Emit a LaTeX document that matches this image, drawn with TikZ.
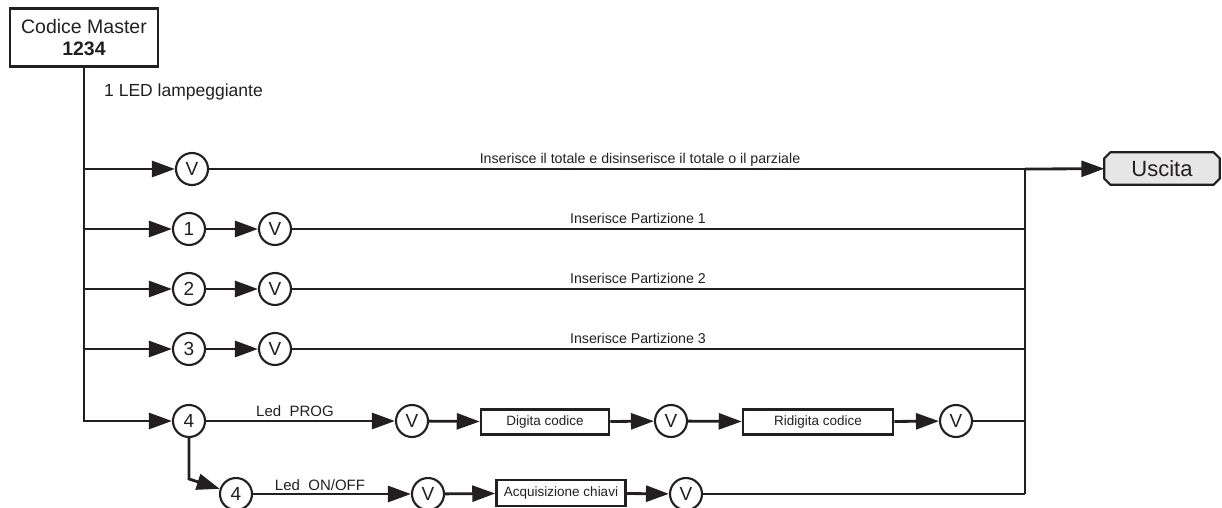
\documentclass[tikz,border=0pt]{standalone}
\usepackage{fontspec}
\setmainfont{Liberation Sans}
\usetikzlibrary{arrows.meta,backgrounds}
\definecolor{ink}{HTML}{231F20}
\definecolor{uscfill}{HTML}{E6E6E7}
\begin{document}
\begin{tikzpicture}[x=1pt,y=-1pt,
  line/.style={draw=ink,line width=2.8pt},
  arr/.style={line,-{Triangle[length=23pt,width=16pt]}},
  circ/.style={circle,draw=ink,line width=2.1pt,minimum size=32pt,inner sep=0pt,font=\fontsize{19}{19}\selectfont,text=ink},
  stepbox/.style={rectangle,draw=ink,line width=2.5pt,inner sep=0pt,minimum height=25pt,font=\fontsize{13.5}{14}\selectfont,text=ink},
  rowlabel/.style={anchor=base,font=\fontsize{14.2}{15}\selectfont,text=ink,inner sep=0pt},
  ledlabel/.style={anchor=base,font=\fontsize{15}{16}\selectfont,text=ink,inner sep=0pt}
]
\useasboundingbox (0,0) rectangle (1222,508);

% master box
\node[rectangle,draw=ink,line width=2.5pt,minimum width=148pt,minimum height=58pt,align=center,
      font=\fontsize{19.5}{22}\selectfont,text=ink,yshift=1.5pt] (master) at (84,39) {Codice Master\\\textbf{1234}};
\node[anchor=base west,inner sep=0pt,font=\fontsize{17.5}{18}\selectfont,text=ink] (led) at (104,97) {1 LED lampeggiante};

% trunk coordinates
\coordinate (t1) at (84,169);
\coordinate (t2) at (84,229);
\coordinate (t3) at (84,289);
\coordinate (t4) at (84,349);
\coordinate (t5) at (84,421);
% right collector
\coordinate (r1) at (1025,169);
\coordinate (r2) at (1025,229);
\coordinate (r3) at (1025,289);
\coordinate (r4) at (1025,349);
\coordinate (r5) at (1025,421);
\coordinate (r6) at (1025,494);

% row 1
\node[circ] (v1) at (192,169) {V};
\node[rectangle,minimum width=115pt,minimum height=32pt,inner sep=0pt,font=\fontsize{22}{22}\selectfont,text=ink] (usc) at (1162,168.5) {Uscita};
\begin{scope}[on background layer]
  \filldraw[draw=ink,fill=uscfill,line width=2.2pt,line join=round]
    ([xshift=6pt]usc.north west) -- ([xshift=-6pt]usc.north east) -- ([yshift=-6pt]usc.north east)
    -- ([yshift=6pt]usc.south east) -- ([xshift=-6pt]usc.south east) -- ([xshift=6pt]usc.south west)
    -- ([yshift=6pt]usc.south west) -- ([yshift=-6pt]usc.north west) -- cycle;
\end{scope}
\draw[arr] (t1) -- (v1);
\draw[line] (v1) -- (r1);
\draw[arr] (r1) -- (usc);
\node[rowlabel] (l1) at (640,163) {Inserisce il totale e disinserisce il totale o il parziale};

% row 2
\node[circ] (c1) at (189,229) {1};
\node[circ] (v2) at (275,229) {V};
\draw[arr] (t2) -- (c1);
\draw[arr] (c1) -- (v2);
\draw[line] (v2) -- (r2);
\node[rowlabel] (l2) at (638,223) {Inserisce Partizione 1};

% row 3
\node[circ] (c2) at (189,289) {2};
\node[circ] (v3) at (275,289) {V};
\draw[arr] (t3) -- (c2);
\draw[arr] (c2) -- (v3);
\draw[line] (v3) -- (r3);
\node[rowlabel] (l3) at (638,283) {Inserisce Partizione 2};

% row 4
\node[circ] (c3) at (189,349) {3};
\node[circ] (v4) at (275,349) {V};
\draw[arr] (t4) -- (c3);
\draw[arr] (c3) -- (v4);
\draw[line] (v4) -- (r4);
\node[rowlabel] (l4) at (638,343) {Inserisce Partizione 3};

% trunk + row 5
\node[circ] (c4) at (189,421) {4};
\draw[arr] (master.south) -- (t5) -- (c4);
\node[circ] (v5) at (412,421) {V};
\node[stepbox,minimum width=128pt] (dig) at (545,422) {Digita codice};
\node[circ] (v6) at (671,421) {V};
\node[stepbox,minimum width=150pt] (rid) at (818,422) {Ridigita codice};
\node[circ] (v7) at (956,421) {V};
\draw[arr] (c4) -- (v5);
\draw[arr] (v5) -- (dig);
\draw[arr] (dig) -- (v6);
\draw[arr] (v6) -- (rid);
\draw[arr] (rid) -- (v7);
\draw[line] (v7) -- (r5);
\node[ledlabel] (lp) at (295,416) {Led\ \ PROG};

% row 6
\coordinate (bend) at (189,479);
\node[circ] (c4b) at (236,494) {4};
\node[circ] (v8) at (428,494) {V};
\node[stepbox,minimum width=129pt,minimum height=26pt] (acq) at (561,493) {Acquisizione chiavi};
\node[circ] (v9) at (686,494) {V};
\draw[arr] (c4.south) -- (bend) -- (c4b);
\draw[arr] (c4b) -- (v8);
\draw[arr] (v8) -- (acq);
\draw[arr] (acq) -- (v9);
\draw[line] (v9) -- (r6);
\draw[line] (r1) -- (r6);
\node[ledlabel] (lo) at (320,490) {Led\ \ ON/OFF};
\end{tikzpicture}
\end{document}
